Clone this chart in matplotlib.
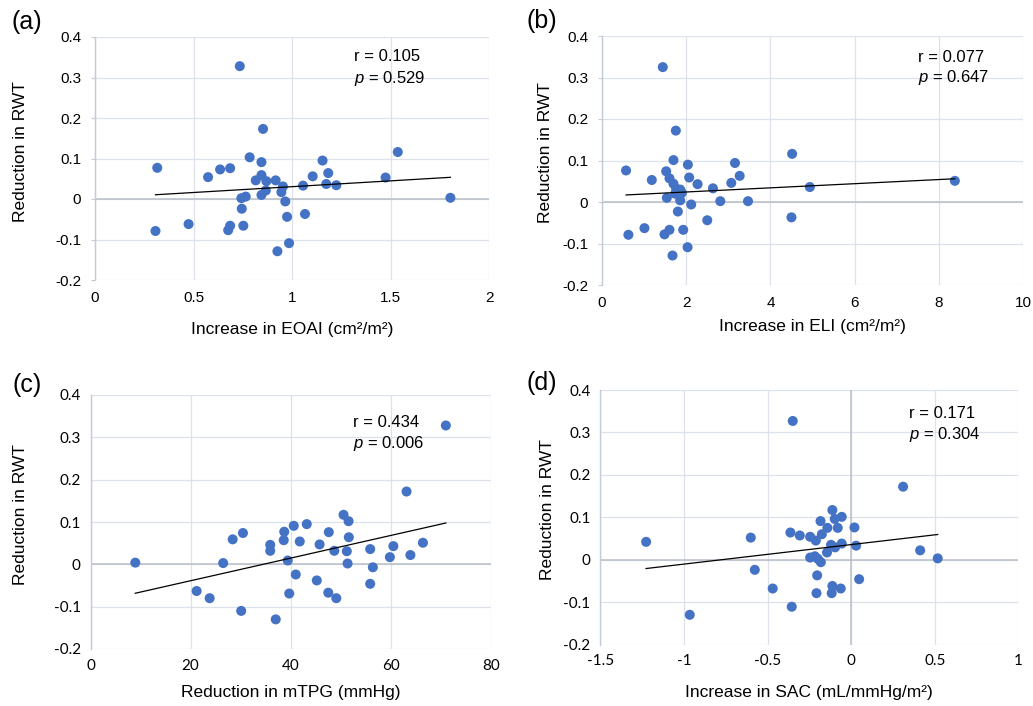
import numpy as np
import matplotlib
matplotlib.use("Agg")
import matplotlib.pyplot as plt

plt.rcParams['font.family'] = ['Liberation Sans', 'DejaVu Sans']
plt.rcParams['mathtext.fontset'] = 'custom'
plt.rcParams['mathtext.rm'] = 'Liberation Sans'
plt.rcParams['mathtext.it'] = 'Liberation Sans:italic'

# ---- dados ----
y_ticks = [-0.2, -0.1, 0, 0.1, 0.2, 0.3, 0.4]

# (a) Increase in EOAI
eoai_x = [0.735, 0.853, 0.316, 0.307, 0.475, 0.574, 0.635, 0.686, 0.676, 0.686,
          0.753, 0.745, 0.743, 0.765, 0.785, 0.845, 0.845, 0.816, 0.870, 0.845,
          0.867, 0.917, 0.954, 0.946, 0.966, 0.975, 0.926, 0.985, 1.056, 1.066,
          1.105, 1.155, 1.184, 1.174, 1.225, 1.475, 1.537, 1.804]
eoai_y = [0.328, 0.173, 0.077, -0.079, -0.062, 0.054, 0.073, 0.076, -0.077, -0.066,
          -0.066, -0.024, 0.002, 0.006, 0.103, 0.091, 0.059, 0.046, 0.044, 0.010,
          0.021, 0.046, 0.031, 0.017, -0.006, -0.044, -0.129, -0.109, 0.033, -0.037,
          0.056, 0.095, 0.064, 0.037, 0.034, 0.053, 0.116, 0.003]
eoai_ticks = [0, 0.5, 1, 1.5, 2]

# (b) Increase in ELI
eli_x = [1.444, 1.754, 0.571, 0.627, 1.008, 1.183, 1.524, 1.698, 2.040, 1.603,
         1.698, 1.762, 1.857, 1.897, 1.738, 1.540, 1.857, 1.802, 2.071, 2.270,
         2.119, 1.603, 1.484, 1.929, 2.032, 1.675, 2.635, 2.500, 2.810, 3.071,
         3.159, 3.270, 3.468, 4.516, 4.500, 4.937, 8.381]
eli_y = [0.325, 0.172, 0.076, -0.079, -0.063, 0.053, 0.074, 0.101, 0.090, 0.057,
         0.044, 0.032, 0.030, 0.022, 0.020, 0.010, 0.004, -0.023, 0.059, 0.043,
         -0.006, -0.067, -0.078, -0.067, -0.109, -0.129, 0.033, -0.044, 0.002, 0.046,
         0.094, 0.063, 0.002, 0.116, -0.037, 0.036, 0.051]
eli_ticks = [0, 2, 4, 6, 8, 10]

# (c) Reduction in mTPG
mtpg_x = [70.98, 63.13, 8.95, 21.2, 23.8, 26.5, 28.4, 30.45, 30.1, 37.0,
          35.9, 35.9, 38.7, 38.6, 39.4, 40.6, 43.2, 41.8, 41.0, 39.7,
          45.76, 45.2, 47.6, 48.7, 47.5, 49.1, 50.55, 51.55, 51.6, 51.2,
          51.35, 55.87, 56.4, 55.87, 59.8, 60.5, 63.9, 66.4]
mtpg_y = [0.328, 0.172, 0.004, -0.063, -0.080, 0.003, 0.059, 0.074, -0.110, -0.130,
          0.046, 0.032, 0.077, 0.057, 0.009, 0.091, 0.095, 0.054, -0.024, -0.069,
          0.047, -0.038, 0.076, 0.032, -0.067, -0.080, 0.117, 0.102, 0.064, 0.031,
          0.002, 0.036, -0.007, -0.046, 0.017, 0.043, 0.022, 0.051]
mtpg_ticks = [0, 20, 40, 60, 80]

# (d) Increase in SAC
sac_x = [-0.349, 0.311, -1.226, -0.965, -0.600, -0.576, -0.469, -0.355, -0.363, -0.307,
         -0.245, -0.211, -0.175, -0.142, -0.183, -0.112, -0.098, -0.056, -0.080, 0.020,
         -0.120, -0.096, -0.056, -0.144, 0.030, -0.245, -0.217, -0.199, -0.181, -0.203,
         -0.112, -0.116, -0.062, -0.207, 0.048, 0.413, 0.518]
sac_y = [0.327, 0.172, 0.042, -0.130, 0.052, -0.024, -0.068, -0.111, 0.064, 0.057,
         0.054, 0.045, 0.060, 0.075, 0.091, 0.117, 0.096, 0.101, 0.075, 0.076,
         0.035, 0.029, 0.038, 0.017, 0.033, 0.005, 0.008, 0.002, -0.006, -0.037,
         -0.062, -0.079, -0.068, -0.079, -0.046, 0.022, 0.003]
sac_ticks = [-1.5, -1, -0.5, 0, 0.5, 1]

stats = [("0.105", "0.529"), ("0.077", "0.647"), ("0.434", "0.006"), ("0.171", "0.304")]

# ---- estilo ----
W, H = 1033, 706
blue = '#4472C4'
grid_c = '#dde1e9'
zero_c = '#b9bec8'
axis_c = '#c3cad8'


def rect(x0, x1, ytop, ybot):
    # converte pixels da figura para fracao
    return [x0 / W, 1 - ybot / H, (x1 - x0) / W, (ybot - ytop) / H]


def draw_panel(fig, pos, xs, ys, xticks, xlabel, letter, stat, opts):
    ax = fig.add_axes(pos)
    ax.set_xlim(xticks[0], xticks[-1])
    ax.set_ylim(y_ticks[0], y_ticks[-1])
    ax.set_xticks(xticks)
    ax.set_yticks(y_ticks)
    ax.set_xticklabels([f"{v:g}" for v in xticks], family=opts['tfont'], fontsize=11)
    ax.set_yticklabels([f"{v:g}" for v in y_ticks], family=opts['tfont'], fontsize=11)

    ax.grid(True, color=grid_c, lw=0.9)
    ax.set_axisbelow(True)
    for s in ['top', 'right', 'bottom']:
        ax.spines[s].set_visible(False)
    ax.spines['left'].set_color(axis_c)
    ax.spines['left'].set_linewidth(1.0)
    ax.tick_params(axis='x', length=0, pad=opts['xpad'])
    ax.tick_params(axis='y', length=opts['ytick'], color=axis_c, pad=opts['ypad'])

    # eixo em y = 0 (e x = 0 quando existe)
    ax.axhline(0, color=zero_c, lw=1.1, zorder=1)
    if xticks[0] < 0 < xticks[-1]:
        ax.axvline(0, color=zero_c, lw=1.1, zorder=1)

    ax.scatter(xs, ys, s=52, color=blue, edgecolors='none', zorder=3)

    # linha de tendencia linear
    k, b = np.polyfit(xs, ys, 1)
    xl = np.array([min(xs), max(xs)])
    ax.plot(xl, k * xl + b, color='black', lw=0.9, zorder=4)

    ax.text(opts['tx'], opts['ty'][0], "r = " + stat[0], transform=ax.transAxes,
            fontsize=12, va='center', ha='left')
    ax.text(opts['tx'], opts['ty'][1], "$p$ = " + stat[1], transform=ax.transAxes,
            fontsize=12, va='center', ha='left')

    ax.set_xlabel(xlabel, fontsize=12.5)
    ax.set_ylabel("Reduction in RWT", fontsize=12.5)
    ax.xaxis.set_label_coords(0.5, opts['xl'])
    ax.yaxis.set_label_coords(opts['yl'], 0.53)

    fig.text(opts['lx'] / W, 1 - opts['ly'] / H, letter, fontsize=18,
             ha='center', va='center')
    return ax


fig = plt.figure(figsize=(W / 100, H / 100), dpi=100)

draw_panel(fig, rect(95, 489, 37, 280), eoai_x, eoai_y, eoai_ticks,
           "Increase in EOAI (cm²/m²)", "(a)", stats[0],
           dict(tfont='Liberation Sans', xpad=8, ypad=7, ytick=3,
                tx=0.657, ty=(0.918, 0.831), xl=-0.172, yl=-0.17, lx=27, ly=22))

draw_panel(fig, rect(602, 1023, 36, 285), eli_x, eli_y, eli_ticks,
           "Increase in ELI (cm²/m²)", "(b)", stats[1],
           dict(tfont='Liberation Sans', xpad=8, ypad=7, ytick=3,
                tx=0.750, ty=(0.914, 0.834), xl=-0.137, yl=-0.116, lx=542, ly=21))

draw_panel(fig, rect(90.5, 491, 395, 649), mtpg_x, mtpg_y, mtpg_ticks,
           "Reduction in mTPG (mmHg)", "(c)", stats[2],
           dict(tfont='Lato', xpad=7, ypad=7, ytick=0,
                tx=0.656, ty=(0.890, 0.809), xl=-0.143, yl=-0.156, lx=27, ly=385))

draw_panel(fig, rect(600.3, 1018.3, 390, 644.5), sac_x, sac_y, sac_ticks,
           "Increase in SAC (mL/mmHg/m²)", "(d)", stats[3],
           dict(tfont='Lato', xpad=7, ypad=7, ytick=0,
                tx=0.739, ty=(0.908, 0.827), xl=-0.159, yl=-0.108, lx=542, ly=383))

fig.savefig("out.png", dpi=100)
